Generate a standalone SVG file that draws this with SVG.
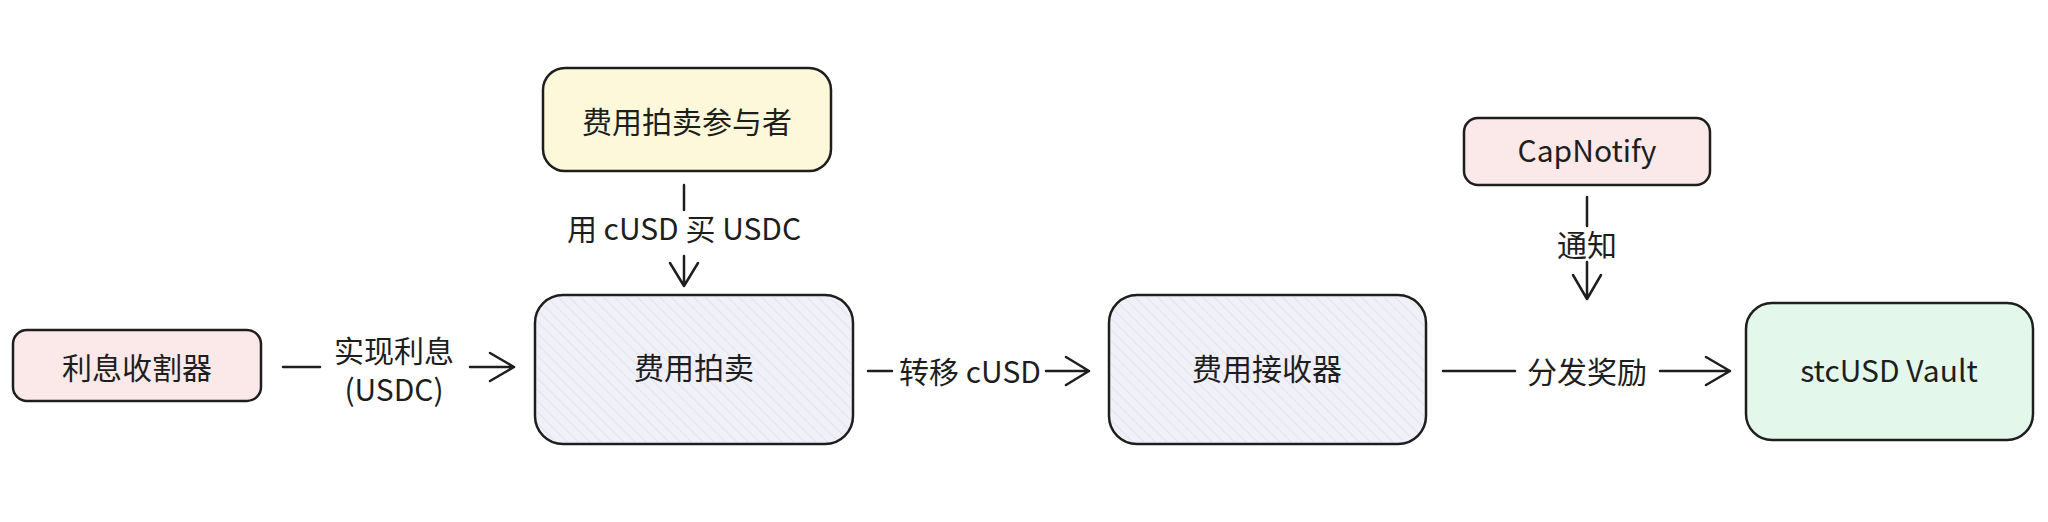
<svg xmlns="http://www.w3.org/2000/svg" width="2048" height="522" viewBox="0 0 2048 522">
<style>
.box{stroke:#1e1e1e;stroke-width:2.5}
.t{font-family:"Noto Sans CJK SC","Liberation Sans",sans-serif;font-size:30px;fill:#1e1e1e;text-anchor:middle;dominant-baseline:central}
.c{stroke:#1e1e1e;stroke-width:2.5;fill:none;stroke-linecap:round;stroke-linejoin:round}
</style>
<defs>
<pattern id="h" width="8" height="8" patternUnits="userSpaceOnUse" patternTransform="rotate(-45)"><line x1="0" y1="0" x2="0" y2="8" stroke="#b0b0c8" stroke-width="0.8" opacity="0.5"/></pattern>
</defs>
<rect width="2048" height="522" fill="#fff"/>
<g id="harvester"><rect class="box" x="13" y="330" width="248" height="71" rx="14" fill="#fbe8e8"/><text class="t" x="137" y="366">利息收割器</text></g>
<g id="participant"><rect class="box" x="543" y="68" width="288" height="103" rx="22" fill="#fcf8d9"/><text class="t" x="687" y="120">费用拍卖参与者</text></g>
<g id="auction"><rect class="box" x="535" y="295" width="318" height="149" rx="28" fill="#f0f0f9"/><rect x="537" y="297" width="314" height="145" rx="26" fill="url(#h)"/><text class="t" x="694" y="366">费用拍卖</text></g>
<g id="receiver"><rect class="box" x="1109" y="295" width="317" height="149" rx="28" fill="#f0f0f9"/><rect x="1111" y="297" width="313" height="145" rx="26" fill="url(#h)"/><text class="t" x="1267" y="367">费用接收器</text></g>
<g id="capnotify"><rect class="box" x="1464" y="118" width="246" height="67" rx="14" fill="#fbe8e8"/><text class="t" x="1587" y="149">CapNotify</text></g>
<g id="vault"><rect class="box" x="1746" y="303" width="287" height="137" rx="26" fill="#e3f7ea"/><text class="t" x="1889" y="369">stcUSD Vault</text></g>
<g id="connectors">
<path class="c" d="M283 367H320M470 367H514M490 353L514 367L490 381"/>
<text class="t" x="394" y="349">实现利息</text><text class="t" x="394" y="388">(USDC)</text>
<path class="c" d="M684 185V210M684 256V286M670 263L684 286L698 263"/>
<text class="t" x="684" y="227">用 cUSD 买 USDC</text>
<path class="c" d="M868 371H892M1046 371H1089M1066 357L1089 371L1066 385"/>
<text class="t" x="970" y="370">转移 cUSD</text>
<path class="c" d="M1443 371H1515M1660 371H1730M1706 357L1730 371L1706 385"/>
<text class="t" x="1587" y="370">分发奖励</text>
<path class="c" d="M1587 197V226M1587 262V299M1573 275L1587 299L1601 275"/>
<text class="t" x="1587" y="243">通知</text>
</g>
</svg>
